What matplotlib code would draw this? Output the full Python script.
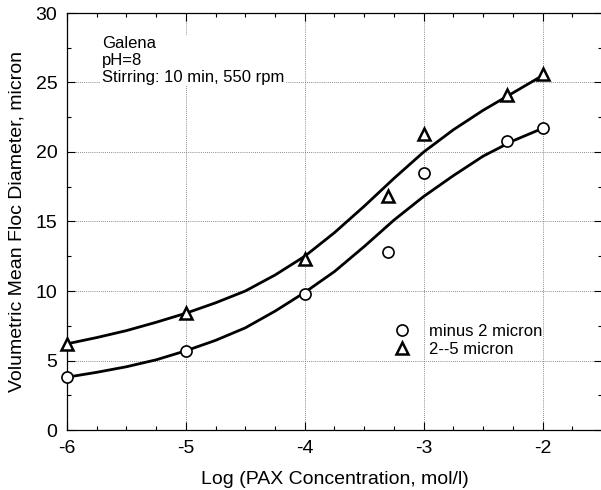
import numpy as np
import matplotlib
matplotlib.use("Agg")
from matplotlib import pyplot as plt
from matplotlib.ticker import MultipleLocator

plt.rcParams['font.family'] = ['Liberation Sans', 'DejaVu Sans']
plt.rcParams['axes.unicode_minus'] = False

# measured points
log_pax = [-6, -5, -4, -3.3, -3, -2.3, -2]
minus2 = [3.8, 5.7, 9.8, 12.8, 18.5, 20.8, 21.7]
two_five = [6.2, 8.4, 12.3, 16.8, 21.3, 24.1, 25.6]

# fitted curves
fit_x = [-6.0, -5.75, -5.5, -5.25, -5.0, -4.75, -4.5, -4.25, -4.0,
         -3.75, -3.5, -3.25, -3.0, -2.75, -2.5, -2.25, -2.0]
fit_minus2 = [3.8, 4.15, 4.55, 5.05, 5.7, 6.45, 7.35, 8.55, 9.9,
              11.4, 13.2, 15.1, 16.8, 18.3, 19.7, 20.8, 21.7]
fit_two_five = [6.2, 6.65, 7.15, 7.75, 8.4, 9.15, 10.0, 11.15, 12.5,
                14.2, 16.1, 18.1, 20.0, 21.6, 23.0, 24.25, 25.5]

fig = plt.figure(figsize=(6.01, 4.90), dpi=100)
ax = fig.add_axes([67/601, 1-430/490, 535/601, 417/490])

ax.plot(fit_x, fit_minus2, color='black', lw=2.0, zorder=2, solid_joinstyle='round')
ax.plot(fit_x, fit_two_five, color='black', lw=2.0, zorder=2, solid_joinstyle='round')
ax.plot(log_pax, minus2, ls='none', marker='o', ms=8, mfc='white',
        mec='black', mew=1.2, label='minus 2 micron', zorder=3, clip_on=False)
ax.plot(log_pax, two_five, ls='none', marker='^', ms=8, mfc='white',
        mec='black', mew=1.8, label='2--5 micron', zorder=3, clip_on=False)

ax.set_xlim(-6, -1.5)
ax.set_ylim(0, 30)
ax.set_xticks([-6, -5, -4, -3, -2])
ax.set_yticks([0, 5, 10, 15, 20, 25, 30])
ax.xaxis.set_minor_locator(MultipleLocator(0.25))
ax.yaxis.set_minor_locator(MultipleLocator(2.5))
ax.tick_params(which='both', direction='in', top=True, right=True,
               labelsize=14, width=0.8)
ax.tick_params(which='major', length=6, pad=7)
ax.tick_params(which='minor', length=3)
ax.grid(True, which='major', ls=(0, (1, 1.5)), color='#666666', lw=0.6)
for s in ax.spines.values():
    s.set_linewidth(0.9)

ax.set_xlabel('Log (PAX Concentration, mol/l)', fontsize=14, labelpad=10)
ax.set_ylabel('Volumetric Mean Floc Diameter, micron', fontsize=14, labelpad=7)

ax.text(0.065, 0.945, 'Galena\npH=8\nStirring: 10 min, 550 rpm', transform=ax.transAxes,
        fontsize=12, va='top', ha='left', linespacing=1.15,
        bbox=dict(facecolor='white', edgecolor='none', pad=1))

ax.legend(loc='center left', bbox_to_anchor=(0.61, 0.2146), frameon=False,
          fontsize=12, handlelength=1, handletextpad=1.15, borderpad=0,
          borderaxespad=0, labelspacing=0.15)

fig.savefig('out.png', dpi=100)
